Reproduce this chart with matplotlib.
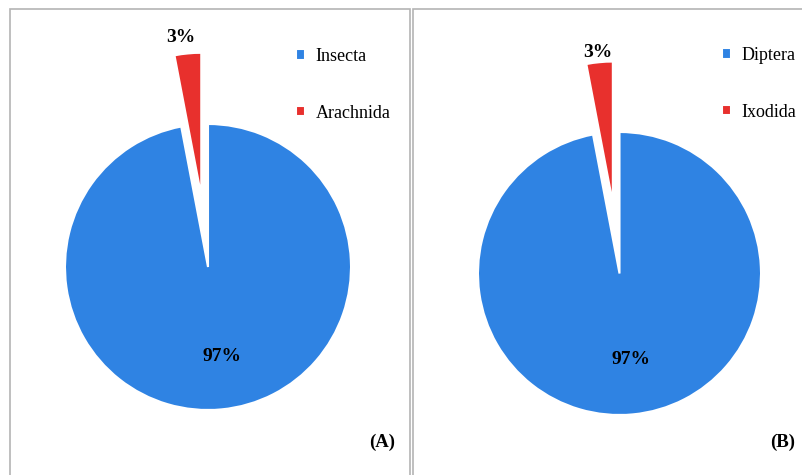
import numpy as np
import matplotlib
matplotlib.use('Agg')
import matplotlib.pyplot as plt
from matplotlib.patches import Rectangle
from matplotlib.transforms import ScaledTranslation

plt.rcParams['font.family'] = ['Liberation Serif', 'DejaVu Serif']

W, H = 803, 475

# data
labels_a = ['Insecta', 'Arachnida']
values_a = [97, 3]
labels_b = ['Diptera', 'Ixodida']
values_b = [97, 3]
panel_tags = ['(A)', '(B)']

colors = ['#2F83E3', '#E8302D']
explode = [0, 0.5]


def px_axes(fig, x0, y0, x1, y1):
    ax = fig.add_axes([x0 / W, 1 - y1 / H, (x1 - x0) / W, (y1 - y0) / H])
    ax.axis('off')
    return ax


def set_lims(ax, x0, y0, x1, y1, cx, cy, r):
    # pie of radius 1 centred on (cx, cy) px
    ax.set_aspect('auto')
    ax.set_xlim((x0 - cx) / r, (x1 - cx) / r)
    ax.set_ylim((cy - y1) / r, (cy - y0) / r)


def draw(ax, values, labels, leg_xy, tag, tag_xy, nudges):
    fig = ax.figure
    wedges, _, autotexts = ax.pie(values, colors=colors, explode=explode,
                                  startangle=90, counterclock=False,
                                  autopct='%1.0f%%', pctdistance=0.62,
                                  wedgeprops=dict(edgecolor='white', linewidth=1.5),
                                  textprops=dict(fontsize=14, fontweight='bold'))
    for w, t, d, (dx, dy) in zip(wedges, autotexts, [0.63, 1.12], nudges):
        th = np.deg2rad((w.theta1 + w.theta2) / 2)
        t.set_position((w.center[0] + d * np.cos(th), w.center[1] + d * np.sin(th)))
        t.set_transform(ax.transData + ScaledTranslation(dx / 100, -dy / 100, fig.dpi_scale_trans))
    ax.legend(wedges, labels, loc='upper left',
              bbox_to_anchor=(leg_xy[0] / W, 1 - leg_xy[1] / H),
              bbox_transform=fig.transFigure,
              frameon=False, fontsize=13, handlelength=0.5, handleheight=0.5,
              handletextpad=0.6, labelspacing=2.2, borderpad=0, borderaxespad=0)
    fig.text(tag_xy[0] / W, 1 - tag_xy[1] / H, tag, ha='center', va='center',
             fontsize=13.5, fontweight='bold')


fig = plt.figure(figsize=(W / 100, H / 100), dpi=100)

ax1 = px_axes(fig, 10, 9, 410, 475)
draw(ax1, values_a, labels_a, (296, 48), panel_tags[0], (382, 442), [(6, 0), (-5, 1)])
set_lims(ax1, 10, 9, 410, 475, 208, 267, 143)

ax2 = px_axes(fig, 413, 9, 803, 475)
draw(ax2, values_b, labels_b, (722, 47), panel_tags[1], (783, 442), [(3, -3), (0, 7)])
set_lims(ax2, 413, 9, 803, 475, 619.5, 273.5, 141.5)

# panel borders
fig.add_artist(Rectangle((10 / W, -0.1), 400 / W, 1.1 - 9 / H, transform=fig.transFigure,
                         fill=False, ec='#b4b4b4', lw=1.2))
fig.add_artist(Rectangle((413 / W, -0.1), 1.0, 1.1 - 9 / H, transform=fig.transFigure,
                         fill=False, ec='#b4b4b4', lw=1.2))

fig.savefig('out.png', dpi=100)
